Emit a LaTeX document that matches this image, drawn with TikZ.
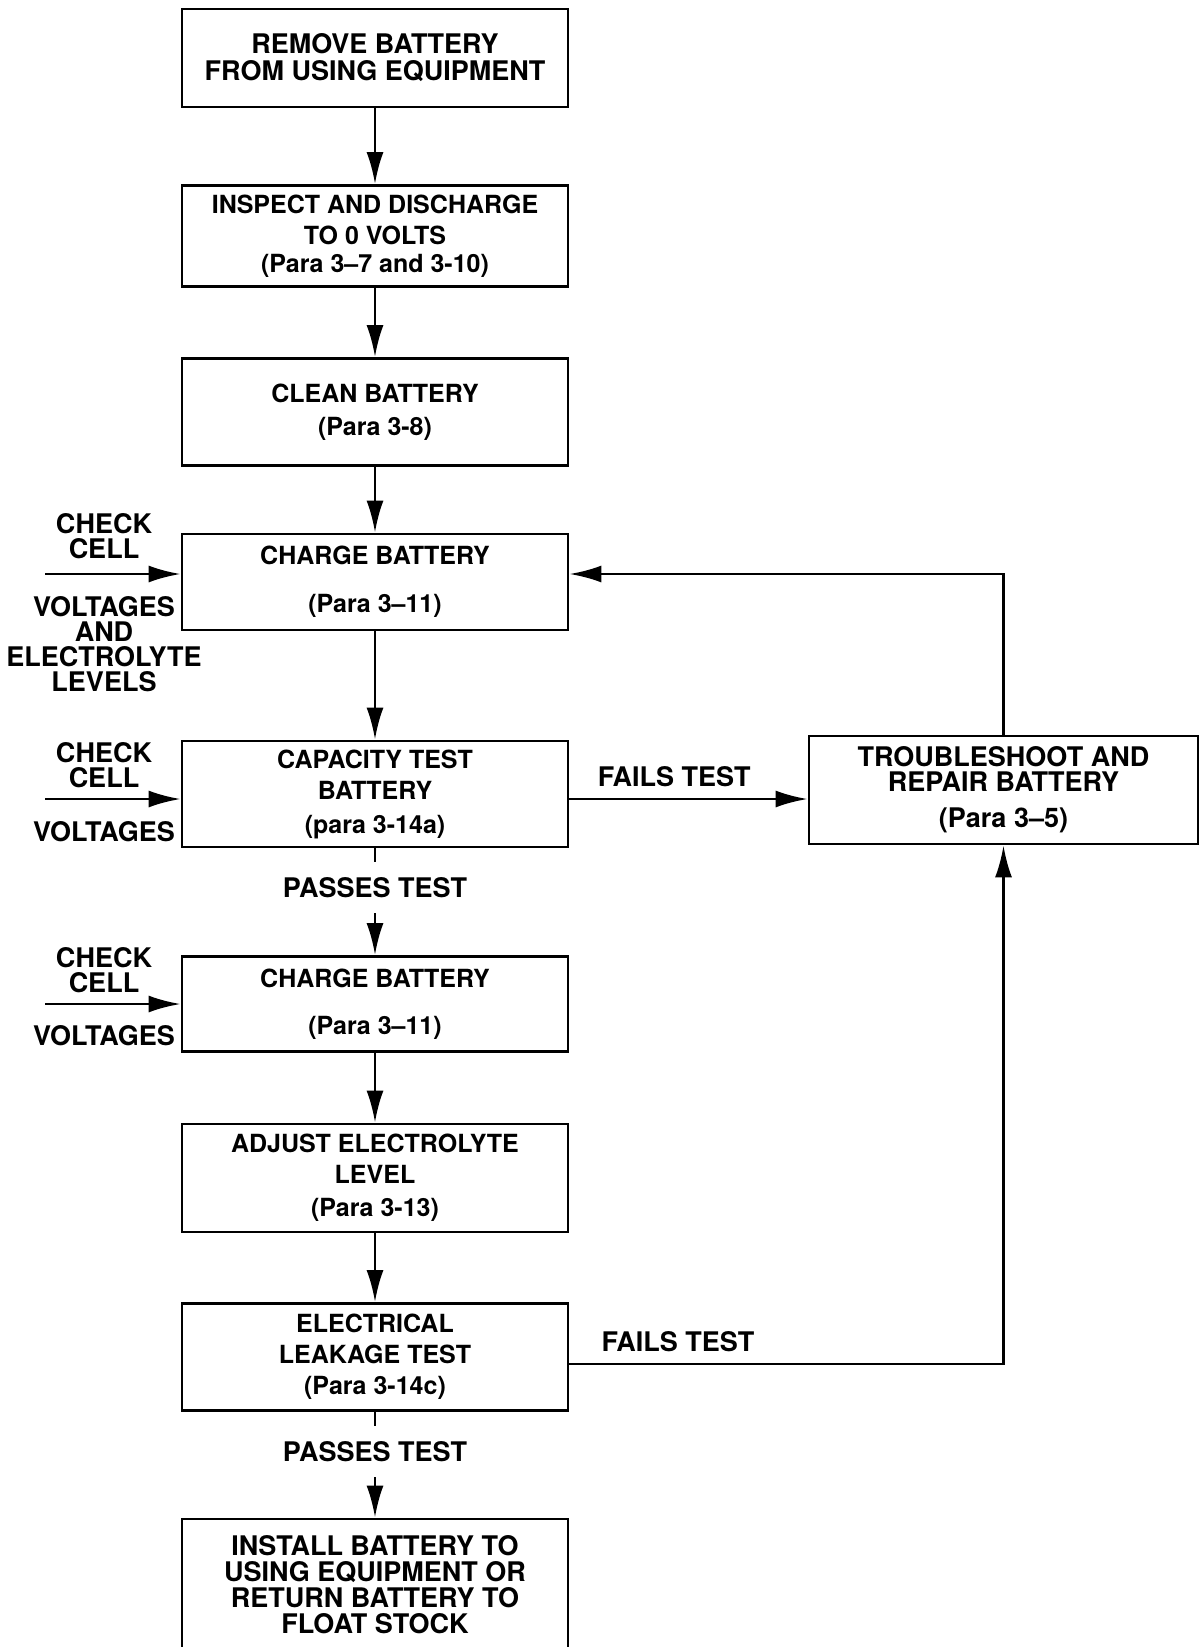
\documentclass[tikz,border=0pt]{standalone}
\usepackage{fontspec}
\setmainfont{TeX Gyre Heros}
\usetikzlibrary{arrows.meta}

\begin{document}
\begin{tikzpicture}[x=1pt,y=-1pt,
  box/.style={draw, line width=2.8pt, minimum width=386pt, align=center, inner sep=0pt,
    font=\fontsize{25}{31}\selectfont\bfseries},
  widebox/.style={box, font=\fontsize{27}{26}\selectfont\bfseries},
  lbl/.style={align=center, inner sep=0pt, font=\fontsize{27}{25}\selectfont\bfseries},
  pass/.style={fill=white, inner xsep=2pt, inner ysep=16pt, text height=19pt, text depth=0pt,
    font=\fontsize{27}{25}\selectfont\bfseries},
  fail/.style={above=11pt, inner sep=0pt, font=\fontsize{27}{25}\selectfont\bfseries},
  arr/.style={line width=2.8pt, -{Latex[length=32pt,width=17pt]}}]
\useasboundingbox (0,0) rectangle (1199,1647);

% main column
\node[widebox, minimum height=98pt] (rm) at (375,58) {REMOVE BATTERY\\[1pt]FROM USING EQUIPMENT};
\node[box, minimum height=101pt] (insp) at (375,236) {INSPECT AND DISCHARGE\\TO 0 VOLTS\\[-3pt](Para 3--7 and 3-10)};
\node[box, minimum height=107pt] (cln) at (375,412) {CLEAN BATTERY\\[2pt](Para 3-8)};
\node[box, minimum height=96pt] (chg1) at (375,582) {CHARGE BATTERY\\[17pt](Para 3--11)};
\node[box, minimum height=106pt] (cap) at (375,794) {CAPACITY TEST\\BATTERY\\[3pt](para 3-14a)};
\node[box, minimum height=95pt] (chg2) at (375,1004) {CHARGE BATTERY\\[16pt](Para 3--11)};
\node[box, minimum height=108pt] (adj) at (375,1178) {ADJUST ELECTROLYTE\\LEVEL\\[2pt](Para 3-13)};
\node[box, minimum height=107pt] (leak) at (375,1357) {ELECTRICAL\\LEAKAGE TEST\\(Para 3-14c)};
\node[widebox, minimum height=132pt] (inst) at (375,1585)
  {INSTALL BATTERY TO\\USING EQUIPMENT OR\\RETURN BATTERY TO\\FLOAT STOCK};

% repair branch
\node[widebox, minimum width=389pt, minimum height=108pt] (trb) at (1003.5,790)
  {TROUBLESHOOT AND\\[-1pt]REPAIR BATTERY\\[10pt](Para 3--5)};

% side inputs
\node[lbl] (chk1) at (104,536) {CHECK\\CELL};
\node[lbl] (vlt1) at (104,644) {VOLTAGES\\AND\\ELECTROLYTE\\LEVELS};
\node[lbl] (chk2) at (104,765) {CHECK\\CELL};
\node[lbl] (vlt2) at (104,832) {VOLTAGES};
\node[lbl] (chk3) at (104,970) {CHECK\\CELL};
\node[lbl] (vlt3) at (104,1036) {VOLTAGES};

\coordinate (in1) at (45,574);
\coordinate (in2) at (45,799);
\coordinate (in3) at (45,1004);
\draw[arr] (in1) -- (in1 -| chg1.west);
\draw[arr] (in2) -- (in2 -| cap.west);
\draw[arr] (in3) -- (in3 -| chg2.west);

% flow
\draw[arr] (rm) -- (insp);
\draw[arr] (insp) -- (cln);
\draw[arr] (cln) -- (chg1);
\draw[arr] (chg1) -- (cap);
\draw[arr] (cap) -- node[pass, pos=0.37] {PASSES TEST} (chg2);
\draw[arr] (chg2) -- (adj);
\draw[arr] (adj) -- (leak);
\draw[arr] (leak) -- node[pass, pos=0.375] {PASSES TEST} (inst);

% failures and return
\coordinate (capout) at ([yshift=-5pt]cap.east);
\draw[arr] (capout) -- node[fail, pos=0.44] {FAILS TEST} (capout -| trb.west);
\coordinate (lkout) at ([yshift=-7pt]leak.east);
\draw[arr] (lkout) -| node[fail, pos=0.125] {FAILS TEST} (trb.south);
\coordinate (chgin) at ([yshift=8pt]chg1.east);
\draw[arr] (trb.north) |- (chgin);
\end{tikzpicture}
\end{document}
